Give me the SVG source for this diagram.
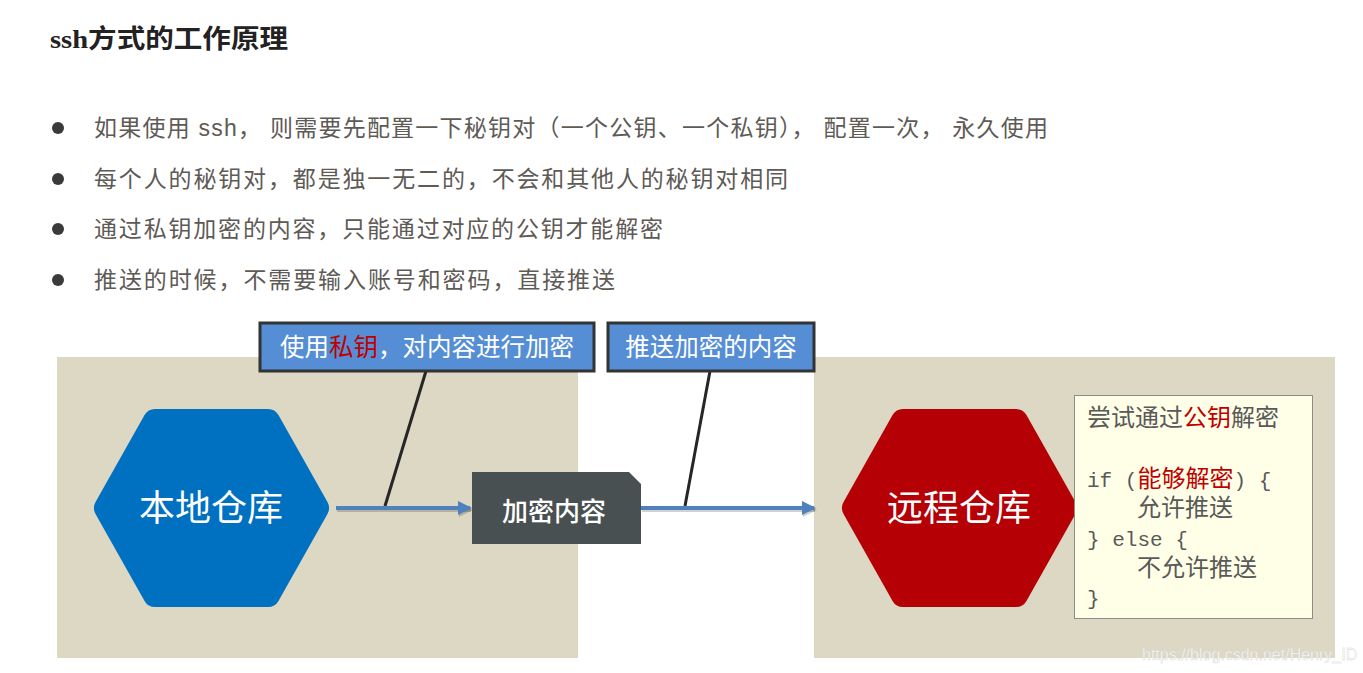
<svg xmlns="http://www.w3.org/2000/svg" width="1363" height="673" viewBox="0 0 1363 673">
<defs>
<style>
.title{font-family:"Liberation Serif","Noto Sans CJK SC",serif;font-size:26px;font-weight:bold;fill:#222}
.bul{font-family:"Liberation Sans","Noto Sans CJK SC",sans-serif;font-size:23px;fill:#5e5a56}
.dot{fill:#3a3a3a}
.panel{fill:#ddd8c3}
.call{fill:#558ed5;stroke:#333;stroke-width:3}
.calltxt{font-family:"Noto Sans CJK SC",sans-serif;font-size:24.5px;fill:#fff;text-anchor:middle}
.red{fill:#c00000}
.lead{stroke:#262626;stroke-width:3;fill:none}
.conn{stroke:#4f81bd;stroke-width:4;fill:none}
.connsh{stroke:#000;stroke-opacity:0.18;stroke-width:4;fill:none}
.hexw{font-family:"Noto Sans CJK SC",sans-serif;font-size:36px;fill:#fff;text-anchor:middle}
.code{font-family:"Liberation Mono","Noto Sans CJK SC",monospace;font-size:24px;fill:#595959}
.lat{font-size:21px}
.codered{fill:#c00000}
</style>
<marker id="ah" markerWidth="14" markerHeight="14" refX="12" refY="7" orient="auto" markerUnits="userSpaceOnUse">
<path d="M0,0 L14,7 L0,14 Z" fill="#4f81bd"/>
</marker>
<marker id="ahs" markerWidth="14" markerHeight="14" refX="12" refY="7" orient="auto" markerUnits="userSpaceOnUse">
<path d="M0,0 L14,7 L0,14 Z" fill="#000" fill-opacity="0.18"/>
</marker>
</defs>
<rect width="1363" height="673" fill="#fff"/>

<g id="title"><text class="title" x="50" y="48" textLength="238" lengthAdjust="spacingAndGlyphs">ssh方式的工作原理</text></g>

<g id="bullets">
<circle class="dot" cx="58" cy="128" r="6"/>
<text class="bul" x="94" y="136" textLength="954">如果使用 ssh， 则需要先配置一下秘钥对（一个公钥、一个私钥）， 配置一次， 永久使用</text>
<circle class="dot" cx="58" cy="179" r="6"/>
<text class="bul" x="94" y="187" textLength="694">每个人的秘钥对，都是独一无二的，不会和其他人的秘钥对相同</text>
<circle class="dot" cx="58" cy="229" r="6"/>
<text class="bul" x="94" y="237" textLength="569">通过私钥加密的内容，只能通过对应的公钥才能解密</text>
<circle class="dot" cx="58" cy="280" r="6"/>
<text class="bul" x="94" y="288" textLength="521">推送的时候，不需要输入账号和密码，直接推送</text>
</g>

<g id="panels">
<rect class="panel" x="57" y="357" width="521" height="301"/>
<rect class="panel" x="814" y="357" width="521" height="301"/>
</g>

<g id="connectors">
<line class="lead" x1="426" y1="371" x2="385" y2="506"/>
<line class="lead" x1="710" y1="371" x2="685" y2="506"/>
<line class="connsh" x1="337" y1="510" x2="471" y2="510" marker-end="url(#ahs)"/>
<line class="conn" x1="336" y1="508" x2="470" y2="508" marker-end="url(#ah)"/>
<line class="connsh" x1="642" y1="510" x2="815" y2="510" marker-end="url(#ahs)"/>
<line class="conn" x1="641" y1="508" x2="814" y2="508" marker-end="url(#ah)"/>
</g>

<g id="callout1">
<rect class="call" x="260" y="323" width="334" height="48"/>
<text class="calltxt" x="427" y="356">使用<tspan class="red">私钥</tspan>，对内容进行加密</text>
</g>
<g id="callout2">
<rect class="call" x="608" y="323" width="206" height="48"/>
<text class="calltxt" x="711" y="356">推送加密的内容</text>
</g>

<g id="local">
<polygon points="106,508 155,421 268,421 317,508 268,595 155,595" fill="#0070c0" stroke="#0070c0" stroke-width="24" stroke-linejoin="round"/>
<text class="hexw" x="211" y="521">本地仓库</text>
</g>

<g id="encrypted">
<polygon points="472,472 629,472 641,484 641,544 472,544" fill="#495051"/>
<text x="554" y="521" font-family="Noto Sans CJK SC,sans-serif" font-size="26" font-weight="500" fill="#fff" text-anchor="middle">加密内容</text>
</g>

<g id="remote">
<polygon points="854,508 903,421 1016,421 1065,508 1016,595 903,595" fill="#b50005" stroke="#b50005" stroke-width="24" stroke-linejoin="round"/>
<text class="hexw" x="959" y="521">远程仓库</text>
</g>

<g id="note">
<rect x="1074.5" y="395.5" width="238" height="223" fill="#ffffe8" stroke="#8c8c8c" stroke-width="1"/>
<text class="code" x="1087" y="426">尝试通过<tspan class="codered">公钥</tspan>解密</text>
<text class="code" x="1087" y="487"><tspan class="lat">if (</tspan><tspan class="codered">能够解密</tspan><tspan class="lat">) {</tspan></text>
<text class="code" x="1137" y="516">允许推送</text>
<text class="code lat" x="1087" y="546">} else {</text>
<text class="code" x="1137" y="576">不允许推送</text>
<text class="code lat" x="1087" y="605">}</text>
</g>

<g id="watermark">
<text x="1142" y="660" font-family="Liberation Sans,sans-serif" font-size="16" fill="#fff" stroke="#d0d0d0" stroke-width="0.4" opacity="0.9">https://blog.csdn.net/Henry_ID</text>
</g>
</svg>
